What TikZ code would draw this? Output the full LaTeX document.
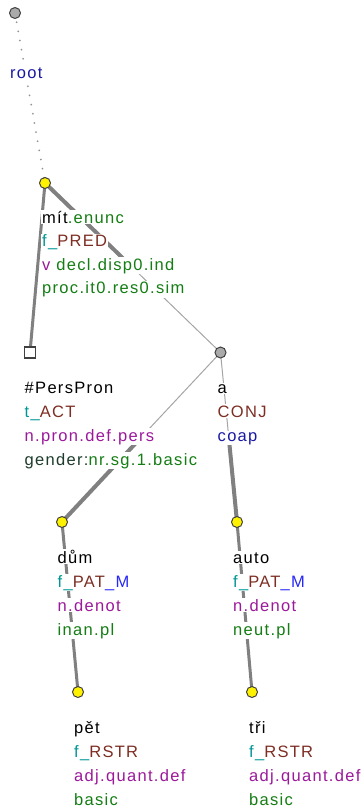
\documentclass[tikz,border=0pt]{standalone}
\usepackage{fontspec}
\setmainfont{Liberation Sans}[LetterSpace=8]
\usepackage{xcolor}
\usetikzlibrary{calc,backgrounds}
\definecolor{EdgeGray}{RGB}{128,128,128}
\definecolor{ThinGray}{RGB}{165,165,165}
\definecolor{DotGray}{RGB}{150,150,150}
\definecolor{RimGray}{RGB}{64,64,64}
\definecolor{NodeGray}{RGB}{170,170,170}
\definecolor{TeGreen}{RGB}{20,125,20}
\definecolor{TeTeal}{RGB}{0,150,150}
\definecolor{TeBrown}{RGB}{125,45,35}
\definecolor{TePurple}{RGB}{155,25,155}
\definecolor{TeNavy}{RGB}{25,25,165}
\definecolor{TeBlue}{RGB}{40,40,250}
\definecolor{TeSlate}{RGB}{30,60,45}

\begin{document}
\begin{tikzpicture}[x=1pt, y=-1pt, font=\fontsize{16.5}{24}\selectfont,
  tnode/.style={circle, draw=RimGray, line width=1pt, fill=yellow, minimum size=11pt, inner sep=0pt},
  coapnode/.style={tnode, fill=NodeGray},
  gennode/.style={draw=RimGray, line width=1.4pt, fill=white, minimum size=11pt, inner sep=0pt},
  lab/.style={anchor=base west, fill=white, inner sep=1pt},
  tedge/.style={draw=EdgeGray, line width=3pt},
  thickhalf/.style={draw=EdgeGray, line width=4pt},
  thinhalf/.style={draw=ThinGray, line width=1pt},
  rootedge/.style={draw=DotGray, line width=2pt, line cap=round, dash pattern=on 0pt off 9.3pt}]

  \useasboundingbox (0,0) rectangle (361,809);

  % tree nodes
  \node[coapnode] (root)  at (15,13)      {};
  \node[tnode]    (mit)   at (45,183)     {};
  \node[gennode]  (pers)  at (30,352.5)   {};
  \node[coapnode] (a)     at (220.5,352.5){};
  \node[tnode]    (dum)   at (62,522)     {};
  \node[tnode]    (autom) at (237,522)    {};
  \node[tnode]    (pet)   at (78,692)     {};
  \node[tnode]    (tri)   at (252,692)    {};

  % edges (behind everything)
  \begin{scope}[on background layer]
    \draw[rootedge] (root.center) -- (mit.center);
    \draw[tedge] (mit.center) -- (pers.center);
    \coordinate (mit-a) at ($(mit)!0.5!(a)$);
    \draw[thickhalf] (mit.center) -- (mit-a);
    \draw[thinhalf] (mit-a) -- (a.center);
    \coordinate (a-dum) at ($(a)!0.5!(dum)$);
    \draw[thinhalf] (a.center) -- (a-dum);
    \draw[thickhalf] (a-dum) -- (dum.center);
    \coordinate (a-autom) at ($(a)!0.5!(autom)$);
    \draw[thinhalf] (a.center) -- (a-autom);
    \draw[thickhalf] (a-autom) -- (autom.center);
    \draw[tedge] (dum.center) -- (pet.center);
    \draw[tedge] (autom.center) -- (tri.center);
  \end{scope}

  % labels
  \node[lab] (root-1) at (9,78) {\textcolor{TeNavy}{root}};

  \node[lab] (mit-1) at (41,223)   {mít\textcolor{TeGreen}{.enunc}};
  \node[lab] (mit-2) at (41,246.5) {\textcolor{TeTeal}{f\_}\textcolor{TeBrown}{PRED}};
  \node[lab] (mit-3) at (41,270)   {\textcolor{TePurple}{v} \textcolor{TeGreen}{decl.disp0.ind}};
  \node[lab] (mit-4) at (41,293.5) {\textcolor{TeGreen}{proc.it0.res0.sim}};

  \node[lab] (pers-1) at (23.5,393) {\#PersPron};
  \node[lab] (pers-2) at (23.5,417) {\textcolor{TeTeal}{t\_}\textcolor{TeBrown}{ACT}};
  \node[lab] (pers-3) at (23.5,441) {\textcolor{TePurple}{n.pron.def.pers}};
  \node[lab] (pers-4) at (23.5,465) {\textcolor{TeSlate}{gender:}\textcolor{TeGreen}{nr.sg.1.basic}};

  \node[lab] (a-1) at (216.5,393) {a};
  \node[lab] (a-2) at (216.5,417) {\textcolor{TeBrown}{CONJ}};
  \node[lab] (a-3) at (216.5,441) {\textcolor{TeNavy}{coap}};

  \node[lab] (dum-1) at (56.5,563) {dům};
  \node[lab] (dum-2) at (56.5,587) {\textcolor{TeTeal}{f\_}\textcolor{TeBrown}{PAT}\textcolor{TeBlue}{\_M}};
  \node[lab] (dum-3) at (56.5,611) {\textcolor{TePurple}{n.denot}};
  \node[lab] (dum-4) at (56.5,635) {\textcolor{TeGreen}{inan.pl}};

  \node[lab] (autom-1) at (232,563) {auto};
  \node[lab] (autom-2) at (232,587) {\textcolor{TeTeal}{f\_}\textcolor{TeBrown}{PAT}\textcolor{TeBlue}{\_M}};
  \node[lab] (autom-3) at (232,611) {\textcolor{TePurple}{n.denot}};
  \node[lab] (autom-4) at (232,635) {\textcolor{TeGreen}{neut.pl}};

  \node[lab] (pet-1) at (73,733) {pět};
  \node[lab] (pet-2) at (73,757) {\textcolor{TeTeal}{f\_}\textcolor{TeBrown}{RSTR}};
  \node[lab] (pet-3) at (73,781) {\textcolor{TePurple}{adj.quant.def}};
  \node[lab] (pet-4) at (73,805) {\textcolor{TeGreen}{basic}};

  \node[lab] (tri-1) at (248,733) {tři};
  \node[lab] (tri-2) at (248,757) {\textcolor{TeTeal}{f\_}\textcolor{TeBrown}{RSTR}};
  \node[lab] (tri-3) at (248,781) {\textcolor{TePurple}{adj.quant.def}};
  \node[lab] (tri-4) at (248,805) {\textcolor{TeGreen}{basic}};
\end{tikzpicture}
\end{document}
